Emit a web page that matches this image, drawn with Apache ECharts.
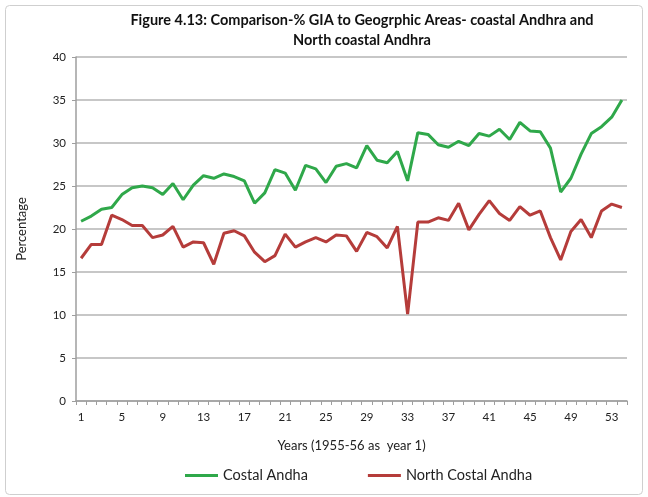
<!DOCTYPE html>
<html><head><meta charset="utf-8">
<script src="https://cdn.jsdelivr.net/npm/echarts@6/dist/echarts.min.js"></script>
<style>html,body{margin:0;padding:0;background:#fff}#c{width:648px;height:497px}</style>
</head><body><div id="c"></div>
<script>
const years = Array.from({length:54},(_,i)=>String(i+1));
const costalAndha = [20.9,21.5,22.3,22.5,24.0,24.8,25.0,24.8,24.0,25.3,23.4,25.1,26.2,25.9,26.4,26.1,25.6,23.0,24.2,26.9,26.5,24.5,27.4,27.0,25.4,27.3,27.6,27.1,29.7,28.0,27.7,29.0,25.6,31.2,31.0,29.8,29.5,30.2,29.7,31.1,30.8,31.6,30.4,32.4,31.4,31.3,29.4,24.3,25.9,28.7,31.1,31.9,33.0,35.0];
const northCostalAndha = [16.6,18.2,18.2,21.6,21.1,20.4,20.4,19.0,19.3,20.3,17.9,18.5,18.4,15.9,19.5,19.8,19.2,17.3,16.2,16.9,19.4,17.9,18.5,19.0,18.5,19.3,19.2,17.4,19.6,19.1,17.8,20.3,10.1,20.8,20.8,21.3,21.0,23.0,19.9,21.7,23.3,21.8,21.0,22.6,21.6,22.1,19.0,16.4,19.7,21.1,19.0,22.1,22.9,22.5];
const FONT = 'Lato';
const chart = echarts.init(document.getElementById('c'), null, {renderer:'canvas'});
chart.setOption({
  backgroundColor:'#fff',
  animation:false,
  textStyle:{fontFamily:FONT},
  graphic:[{type:'rect',shape:{x:5.5,y:5.5,width:637,height:489,r:4},style:{fill:'none',stroke:'#cfcfcf',lineWidth:1}}],
  title:{
    text:'Figure 4.13: Comparison-% GIA to Geogrphic Areas- coastal Andhra and\nNorth coastal Andhra',
    left:357, top:5, textAlign:'center',
    textStyle:{fontFamily:FONT,fontSize:14.5,fontWeight:'bold',color:'#111',lineHeight:20}
  },
  legend:{
    data:['Costal Andha','North Costal Andha'],
    left:180, top:463, itemWidth:33, itemHeight:3, itemGap:60,
    icon:'rect',
    textStyle:{fontFamily:FONT,fontSize:14.5,color:'#222'}
  },
  grid:{left:76,right:21,top:57,bottom:96},
  xAxis:{
    type:'category', data:years, boundaryGap:true,
    name:'Years (1955-56 as  year 1)', nameLocation:'middle', nameGap:38,
    nameTextStyle:{fontFamily:FONT,fontSize:13,color:'#222'},
    axisLine:{lineStyle:{color:'#9e9e9e',width:1.5}},
    axisTick:{show:true,interval:0,length:4,lineStyle:{color:'#9e9e9e'}},
    axisLabel:{interval:3,fontFamily:FONT,fontSize:11.5,color:'#222',margin:10}
  },
  yAxis:{
    type:'value', min:0, max:40, interval:5,
    name:'Percentage', nameLocation:'middle', nameGap:48, nameRotate:90,
    nameTextStyle:{fontFamily:FONT,fontSize:13,color:'#222'},
    axisLine:{show:true,lineStyle:{color:'#9e9e9e',width:1.5}},
    axisTick:{show:true,length:4,lineStyle:{color:'#9e9e9e'}},
    axisLabel:{fontFamily:FONT,fontSize:11.5,color:'#222',margin:10},
    splitLine:{lineStyle:{color:'#b4b4b4',width:1.5}}
  },
  series:[
    {name:'Costal Andha',type:'line',data:costalAndha,symbol:'none',lineStyle:{color:'#2fa84a',width:3},itemStyle:{color:'#2fa84a'}},
    {name:'North Costal Andha',type:'line',data:northCostalAndha,symbol:'none',lineStyle:{color:'#b53c3a',width:3},itemStyle:{color:'#b53c3a'}}
  ]
});
</script></body></html>
